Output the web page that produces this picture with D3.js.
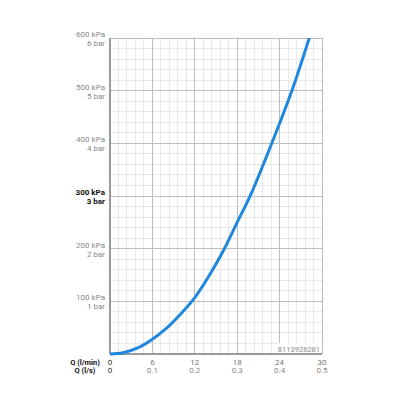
<!DOCTYPE html>
<html lang="en">
    <head>
        <meta charset="UTF-8">
        <script src="https://cdn.jsdelivr.net/npm/d3@7/dist/d3.min.js"></script>
        <title>Pressure loss</title>
        <style>
            body { margin: 0; background: #fff; }
            svg text { font-family: Roboto, "Liberation Sans", Arial, sans-serif; }
        </style>
    </head>
    <body>
        <script type="text/javascript">
            // Flow (l/min) and pressure loss (kPa)
            var flowLpm = [0, 1, 2, 4, 6, 8, 10, 12, 14, 16, 18, 20, 22, 24, 26, 28.2];
            var pressureKpa = [0, 0.8, 3, 12, 28, 49, 76, 107, 148, 195, 250, 305, 370, 438, 510, 600];

            // Tick labels
            var qLpmTicks = [0, 6, 12, 18, 24, 30];
            var qLsTicks = ["0", "0.1", "0.2", "0.3", "0.4", "0.5"];
            var kpaTicks = [100, 200, 300, 400, 500, 600];
            var kpaLabels = ["100 kPa", "200 kPa", "300 kPa", "400 kPa", "500 kPa", "600 kPa"];
            var barLabels = ["1 bar", "2 bar", "3 bar", "4 bar", "5 bar", "6 bar"];
            var codeLabel = "8113926281";

            var width = 400, height = 400;
            var plot = { left: 110, right: 322, top: 38, bottom: 354 };

            var svg = d3.select("body")
                .append("svg")
                .attr("width", width)
                .attr("height", height);

            var x = d3.scaleLinear().domain([0, 30]).range([plot.left, plot.right]);
            var y = d3.scaleLinear().domain([0, 600]).range([plot.bottom, plot.top]);

            // Minor grid: 1.2 l/min and 20 kPa
            var grid = svg.append("g").attr("shape-rendering", "crispEdges");
            grid.selectAll(".minor-x")
                .data(d3.range(0, 30.001, 1.2))
                .enter().append("line")
                .attr("x1", d => x(d)).attr("x2", d => x(d))
                .attr("y1", plot.top).attr("y2", plot.bottom)
                .attr("stroke", "#e8e8e8").attr("stroke-width", 1);
            grid.selectAll(".minor-y")
                .data(d3.range(0, 600.001, 20))
                .enter().append("line")
                .attr("x1", plot.left).attr("x2", plot.right)
                .attr("y1", d => y(d)).attr("y2", d => y(d))
                .attr("stroke", "#e8e8e8").attr("stroke-width", 1);

            // Major grid
            grid.selectAll(".major-x")
                .data(qLpmTicks)
                .enter().append("line")
                .attr("x1", d => x(d)).attr("x2", d => x(d))
                .attr("y1", plot.top).attr("y2", plot.bottom)
                .attr("stroke", "#bdbdbd").attr("stroke-width", 1);
            grid.selectAll(".major-y")
                .data(kpaTicks)
                .enter().append("line")
                .attr("x1", plot.left).attr("x2", plot.right)
                .attr("y1", d => y(d)).attr("y2", d => y(d))
                .attr("stroke", "#bdbdbd").attr("stroke-width", 1);

            // Axis lines
            grid.append("line")
                .attr("x1", plot.left).attr("x2", plot.left)
                .attr("y1", plot.top).attr("y2", plot.bottom)
                .attr("stroke", "#9a9a9a").attr("stroke-width", 1.5);
            grid.append("line")
                .attr("x1", plot.left).attr("x2", plot.right)
                .attr("y1", plot.bottom).attr("y2", plot.bottom)
                .attr("stroke", "#9a9a9a").attr("stroke-width", 1.5);

            // Y labels (kPa over bar)
            var yl = svg.append("g").attr("font-size", "8px").attr("text-anchor", "end");
            kpaTicks.forEach(function(v, i){
                var bold = v === 300;
                yl.append("text")
                    .attr("x", plot.left - 5)
                    .attr("y", y(v) - 1)
                    .attr("fill", bold ? "#111" : "#888")
                    .attr("font-weight", bold ? "bold" : "normal")
                    .text(kpaLabels[i]);
                yl.append("text")
                    .attr("x", plot.left - 5)
                    .attr("y", y(v) + 8)
                    .attr("fill", bold ? "#111" : "#888")
                    .attr("font-weight", bold ? "bold" : "normal")
                    .text(barLabels[i]);
            });

            // X labels
            var xl = svg.append("g").attr("font-size", "8px").attr("text-anchor", "middle");
            qLpmTicks.forEach(function(v, i){
                xl.append("text")
                    .attr("x", x(v)).attr("y", plot.bottom + 10.5)
                    .attr("fill", i === 0 ? "#333" : "#777")
                    .text(v);
                xl.append("text")
                    .attr("x", x(v)).attr("y", plot.bottom + 18.5)
                    .attr("fill", i === 0 ? "#333" : "#888")
                    .text(qLsTicks[i]);
            });
            xl.append("text")
                .attr("x", 85).attr("y", plot.bottom + 10.5)
                .attr("font-size", "7.5px")
                .attr("font-weight", "bold").attr("fill", "#111")
                .text("Q (l/min)");
            xl.append("text")
                .attr("x", 85).attr("y", plot.bottom + 18.5)
                .attr("font-size", "7.5px")
                .attr("font-weight", "bold").attr("fill", "#111")
                .text("Q (l/s)");

            // Code label with white box
            var code = svg.append("g");
            code.append("rect")
                .attr("x", 279).attr("y", 343)
                .attr("width", plot.right - 279 - 1).attr("height", 10)
                .attr("fill", "#fff");
            code.append("text")
                .attr("x", plot.right - 2).attr("y", 351.5)
                .attr("text-anchor", "end")
                .attr("font-size", "7.5px")
                .attr("fill", "#888")
                .text(codeLabel);

            // Curve
            svg.append("clipPath").attr("id", "clip")
                .append("rect")
                .attr("x", plot.left).attr("y", plot.top)
                .attr("width", plot.right - plot.left).attr("height", plot.bottom - plot.top + 3);

            var line = d3.line()
                .x(d => x(d[0]))
                .y(d => y(d[1]))
                .curve(d3.curveMonotoneX);

            svg.append("path")
                .datum(d3.zip(flowLpm, pressureKpa))
                .attr("clip-path", "url(#clip)")
                .attr("fill", "none")
                .attr("stroke", "#1f88de")
                .attr("stroke-width", 3)
                .attr("stroke-linecap", "butt")
                .attr("d", line);
        </script>
    </body>
</html>
